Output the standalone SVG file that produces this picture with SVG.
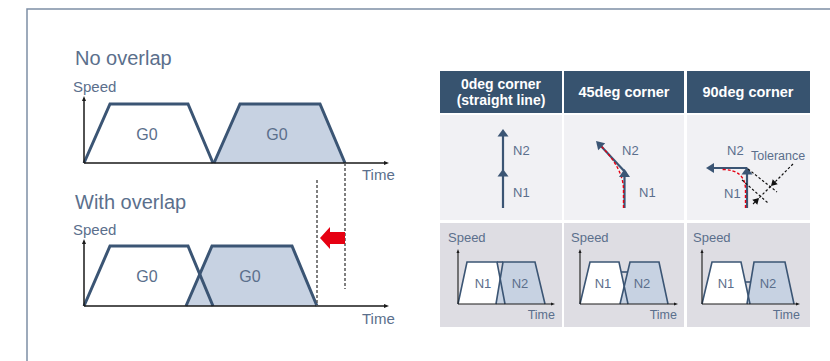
<svg xmlns="http://www.w3.org/2000/svg" width="830" height="361" viewBox="0 0 830 361">
<style>
.t{font-family:"Liberation Sans",Arial,sans-serif;fill:#5b6f8c}
.h{font-family:"Liberation Sans",Arial,sans-serif;font-weight:bold;fill:#fff;font-size:14.5px;text-anchor:middle}
.h2{font-size:14px}
.tr{fill:none;stroke:#3b5574;stroke-width:3;stroke-linejoin:miter}
.trs{fill:none;stroke:#3b5574;stroke-width:1.6}
.ax{fill:none;stroke:#1a1a1a;stroke-width:1.5}
.axs{fill:none;stroke:#1a1a1a;stroke-width:1.1}
.fill2{fill:#c7d2e2}
.dash{fill:none;stroke:#555;stroke-width:1.5;stroke-dasharray:3 2}
.red{fill:none;stroke:#e60012;stroke-width:1.4;stroke-dasharray:3 2}
.blk{fill:none;stroke:#111;stroke-width:1.2;stroke-dasharray:2.5 2}
.icon{fill:none;stroke:#3b5574;stroke-width:2.2}
.ah{fill:#3b5574}
</style>
<g id="frame">
<path d="M27 361 V9 H830" fill="none" stroke="#7d8ea5" stroke-width="1.5"/>
</g>
<g id="no-overlap">
<text class="t" x="75" y="65" font-size="20">No overlap</text>
<text class="t" x="73" y="92" font-size="15">Speed</text>
<polygon class="fill2" points="214,163 240,104 320,104 345,163"/>
<polyline class="tr" points="84,163 110,104 188,104 213,163"/>
<polyline class="tr" points="214,163 240,104 320,104 345,163"/>
<path class="ax" d="M84 163 V99 M84 163 H385"/>
<polygon points="84,96 86,101 82,101" fill="#1a1a1a"/>
<polygon points="389,163 384,161 384,165" fill="#1a1a1a"/>
<text class="t" x="147" y="140" font-size="16" text-anchor="middle">G0</text>
<text class="t" x="277" y="140" font-size="16" text-anchor="middle">G0</text>
<text class="t" x="362" y="180" font-size="15">Time</text>
</g>
<g id="with-overlap">
<text class="t" x="75" y="209" font-size="20">With overlap</text>
<text class="t" x="73" y="235" font-size="15">Speed</text>
<polygon class="fill2" points="186,306 212,246 292,246 317,306"/>
<polyline class="tr" points="84,306 110,246 188,246 213,306"/>
<polyline class="tr" points="186,306 212,246 292,246 317,306"/>
<path class="ax" d="M84 306 V242 M84 306 H385"/>
<polygon points="84,239 86,244 82,244" fill="#1a1a1a"/>
<polygon points="389,306 384,304 384,308" fill="#1a1a1a"/>
<text class="t" x="147" y="282" font-size="16" text-anchor="middle">G0</text>
<text class="t" x="250" y="282" font-size="16" text-anchor="middle">G0</text>
<text class="t" x="362" y="324" font-size="15">Time</text>
</g>
<g id="connectors">
<line class="dash" x1="345" y1="163" x2="345" y2="289"/>
<line class="dash" x1="317" y1="180" x2="317" y2="306"/>
<polygon points="320,238 330,227 330,232 345,232 345,244 330,244 330,249" fill="#e60012"/>
</g>
<g id="table-header">
<rect x="440" y="71" width="122" height="42" fill="#37536f"/>
<rect x="564" y="71" width="120" height="42" fill="#37536f"/>
<rect x="687" y="71" width="123" height="42" fill="#37536f"/>
<text class="h h2" x="501" y="89">0deg corner</text>
<text class="h h2" x="501" y="105">(straight line)</text>
<text class="h" x="624" y="97">45deg corner</text>
<text class="h" x="748" y="97">90deg corner</text>
</g>
<g id="row-paths">
<rect x="440" y="115" width="122" height="105" fill="#f1f1f4"/>
<rect x="564" y="115" width="120" height="105" fill="#f1f1f4"/>
<rect x="687" y="115" width="123" height="105" fill="#f1f1f4"/>
</g>
<g id="path-0deg">
<line class="icon" x1="503" y1="208" x2="503" y2="133"/>
<polygon class="ah" points="503,129 508.5,136.5 497.5,136.5"/>
<polygon class="ah" points="503,169 508.5,176.5 497.5,176.5"/>
<text class="t" x="513" y="155" font-size="13">N2</text>
<text class="t" x="513" y="197" font-size="13">N1</text>
</g>
<g id="path-45deg">
<line class="icon" x1="624.5" y1="208" x2="624.5" y2="174"/>
<line class="icon" x1="626" y1="173" x2="600" y2="145"/>
<path class="red" d="M623.5 208 L623.5 189 Q623 168 600 145"/>
<polygon class="ah" points="624.5,169 630,177 619,177"/>
<polygon class="ah" points="596,141 605.2,143.2 598.2,150.2"/>
<text class="t" x="622" y="155" font-size="13">N2</text>
<text class="t" x="639" y="197" font-size="13">N1</text>
</g>
<g id="path-90deg">
<line class="icon" x1="747" y1="208" x2="747" y2="172"/>
<line class="icon" x1="747" y1="168" x2="711" y2="168"/>
<path class="red" d="M745.5 208 L745.5 190 Q745.5 169.5 722 169.5"/>
<polygon class="ah" points="747,167 752.5,174.5 741.5,174.5"/>
<polygon class="ah" points="706,168 714,163 714,173"/>
<line class="blk" x1="748" y1="169" x2="777" y2="192"/>
<line class="blk" x1="742" y1="180" x2="768" y2="203"/>
<line class="blk" x1="793" y1="164" x2="753" y2="204"/>
<polygon points="771,186 777.7,184.3 772.7,179.3" fill="#111"/>
<polygon points="759,198 757.3,204.7 752.3,199.7" fill="#111"/>
<text class="t" x="727" y="155" font-size="13">N2</text>
<text class="t" x="751" y="160" font-size="12.5">Tolerance</text>
<text class="t" x="724" y="198" font-size="13">N1</text>
</g>
<g id="row-profiles">
<rect x="440" y="223" width="122" height="104" fill="#dedde3"/>
<rect x="564" y="223" width="120" height="104" fill="#dedde3"/>
<rect x="687" y="223" width="123" height="104" fill="#dedde3"/>
</g>
<g id="profile-0deg">
<text class="t" x="448" y="242" font-size="13">Speed</text>
<polygon fill="#fff" points="458,304 467,262 497,262 505,304"/>
<polygon class="fill2" points="496,304 503,262 535,262 545,304"/>
<polyline class="trs" points="458,304 467,262 497,262 505,304"/>
<polyline class="trs" points="496,304 503,262 535,262 545,304"/>
<line class="trs" x1="497" y1="262" x2="503" y2="262"/>
<path class="axs" d="M458 304 V252 M458 304 H552"/>
<polygon points="458,249 459.5,253 456.5,253" fill="#1a1a1a"/>
<polygon points="555,304 551,302.5 551,305.5" fill="#1a1a1a"/>
<text class="t" x="483" y="288" font-size="13" text-anchor="middle">N1</text>
<text class="t" x="520" y="288" font-size="13" text-anchor="middle">N2</text>
<text class="t" x="555" y="319" font-size="12.5" text-anchor="end">Time</text>
</g>
<g id="profile-45deg">
<text class="t" x="571" y="242" font-size="13">Speed</text>
<polygon fill="#fff" points="580,304 590,262 619,262 628,304"/>
<polygon class="fill2" points="620,304 630,262 659,262 668,304"/>
<polyline class="trs" points="580,304 590,262 619,262 628,304"/>
<polyline class="trs" points="620,304 630,262 659,262 668,304"/>
<line class="trs" x1="621" y1="272" x2="627.6" y2="272"/>
<path class="axs" d="M580 304 V252 M580 304 H675"/>
<polygon points="580,249 581.5,253 578.5,253" fill="#1a1a1a"/>
<polygon points="678,304 674,302.5 674,305.5" fill="#1a1a1a"/>
<text class="t" x="603" y="288" font-size="13" text-anchor="middle">N1</text>
<text class="t" x="642" y="288" font-size="13" text-anchor="middle">N2</text>
<text class="t" x="677" y="319" font-size="12.5" text-anchor="end">Time</text>
</g>
<g id="profile-90deg">
<text class="t" x="693" y="242" font-size="13">Speed</text>
<polygon fill="#fff" points="702,304 712,262 741,262 750,304"/>
<polygon class="fill2" points="747,304 754,262 785,262 794,304"/>
<polyline class="trs" points="702,304 712,262 741,262 750,304"/>
<polyline class="trs" points="747,304 754,262 785,262 794,304"/>
<line class="trs" x1="745.3" y1="282" x2="750.7" y2="282"/>
<path class="axs" d="M702 304 V252 M702 304 H797"/>
<polygon points="702,249 703.5,253 700.5,253" fill="#1a1a1a"/>
<polygon points="800,304 796,302.5 796,305.5" fill="#1a1a1a"/>
<text class="t" x="726" y="288" font-size="13" text-anchor="middle">N1</text>
<text class="t" x="768" y="288" font-size="13" text-anchor="middle">N2</text>
<text class="t" x="800" y="319" font-size="12.5" text-anchor="end">Time</text>
</g>
</svg>
